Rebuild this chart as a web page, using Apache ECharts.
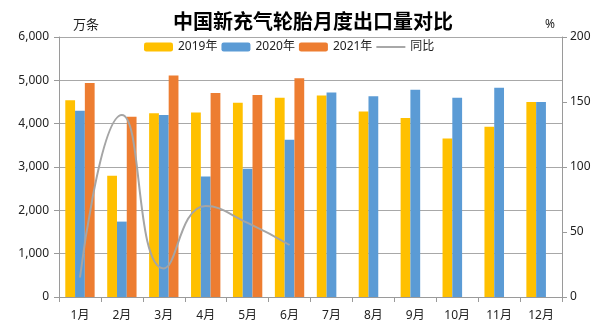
<!DOCTYPE html>
<html><head><meta charset="utf-8">
<script src="https://cdn.jsdelivr.net/npm/echarts@6/dist/echarts.min.js"></script>
<style>html,body{margin:0;padding:0;background:#fff}#c{width:600px;height:331px}</style>
</head><body><div id="c"></div>
<script>
const categories = ['1月','2月','3月','4月','5月','6月','7月','8月','9月','10月','11月','12月'];
const s2019 = [4540, 2800, 4240, 4260, 4480, 4600, 4650, 4280, 4130, 3660, 3930, 4500];
const s2020 = [4300, 1740, 4200, 2780, 2960, 3630, 4720, 4630, 4780, 4600, 4830, 4500];
const s2021 = [4940, 4160, 5110, 4710, 4660, 5050, null, null, null, null, null, null];
const yoy = [15, 140, 22, 70, 57, 40, null, null, null, null, null, null];
const leftTicks = [0, 6000, 1000];
const rightTicks = [0, 200, 50];

const font = '"Noto Sans", "Noto Sans CJK SC", sans-serif';
const chart = echarts.init(document.getElementById('c'), null, {renderer: 'canvas'});
chart.setOption({
  animation: false,
  backgroundColor: '#fff',
  title: {
    text: '中国新充气轮胎月度出口量对比',
    left: 308, textAlign: 'center', top: 6,
    textStyle: {fontFamily: '"Noto Sans CJK SC", sans-serif', fontSize: 20, fontWeight: 'bold', color: '#000'}
  },
  legend: {
    left: 144, top: 41, padding: 0,
    itemWidth: 29, itemHeight: 9, itemGap: 4,
    textStyle: {fontFamily: font, fontSize: 12, color: '#222'},
    data: ['2019年', '2020年', '2021年', {name: '同比', icon: 'path://M0,0 L30,0 L30,2 L0,2 Z'}]
  },
  grid: {left: 59, right: 38, top: 37, bottom: 34},
  xAxis: {
    type: 'category', data: categories,
    axisLine: {lineStyle: {color: '#9a9a9a', width: 1}},
    axisTick: {show: true, length: 5, lineStyle: {color: '#9a9a9a'}},
    axisLabel: {fontFamily: font, fontSize: 12, color: '#222', margin: 13}
  },
  yAxis: [{
    type: 'value', min: leftTicks[0], max: leftTicks[1], interval: leftTicks[2],
    name: '万条', nameLocation: 'end', nameGap: 6,
    nameTextStyle: {fontFamily: '"Noto Sans CJK SC", sans-serif', fontSize: 13, color: '#222', align: 'left', padding: [0, 0, 0, 14]},
    axisLine: {show: true, lineStyle: {color: '#9a9a9a'}},
    axisTick: {show: true, length: 5, lineStyle: {color: '#9a9a9a'}},
    axisLabel: {fontFamily: font, fontSize: 12, color: '#222', margin: 10,
      formatter: v => v.toLocaleString('en-US')},
    splitLine: {lineStyle: {color: '#a8a8a8', width: 1}}
  }, {
    type: 'value', min: rightTicks[0], max: rightTicks[1], interval: rightTicks[2],
    name: '%', nameLocation: 'end', nameGap: 6,
    nameTextStyle: {fontFamily: font, fontSize: 12, color: '#222', align: 'right', padding: [0, 7, 0, 0]},
    axisLine: {show: true, lineStyle: {color: '#9a9a9a'}},
    axisTick: {show: true, length: 5, lineStyle: {color: '#9a9a9a'}},
    axisLabel: {fontFamily: font, fontSize: 12, color: '#222', margin: 8},
    splitLine: {show: false}
  }],
  series: [
    {name: '2019年', type: 'bar', data: s2019, itemStyle: {color: '#FFC000'}, barGap: '0%', barCategoryGap: '30%'},
    {name: '2020年', type: 'bar', data: s2020, itemStyle: {color: '#5B9BD5'}},
    {name: '2021年', type: 'bar', data: s2021, itemStyle: {color: '#ED7D31'}},
    {name: '同比', type: 'line', yAxisIndex: 1, data: yoy, smooth: 0.5, symbol: 'none',
     lineStyle: {color: '#A5A5A5', width: 2}, itemStyle: {color: '#A5A5A5'}}
  ]
});
</script></body></html>
